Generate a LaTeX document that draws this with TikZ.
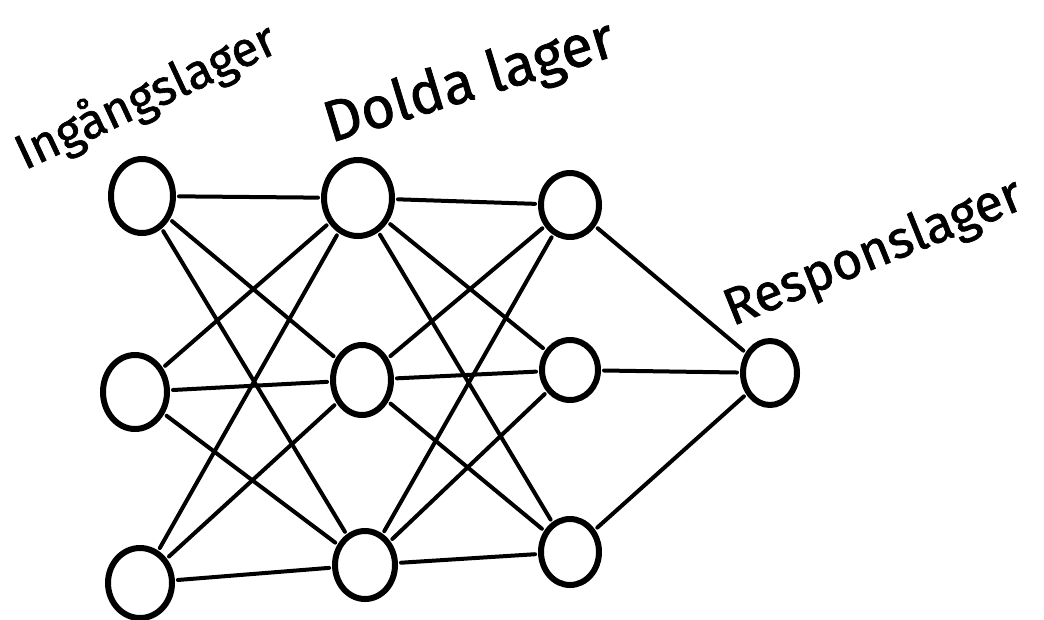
\documentclass[tikz,border=0pt]{standalone}
\usepackage{fontspec}
\newfontfamily\handfont{Fira Sans}[FakeBold=1.3]
\usetikzlibrary{shapes.geometric}
\begin{document}
\begin{tikzpicture}[x=1pt,y=-1pt,
  neuron/.style={draw, ellipse, line width=6pt, inner sep=0pt},
  link/.style={line width=4pt, line cap=round, shorten <=3pt, shorten >=3pt},
  title/.style={inner sep=0pt}]
\useasboundingbox (0,0) rectangle (1044,619);
% input layer
\node[neuron, minimum width=62pt, minimum height=74pt] (i1) at (142,196) {};
\node[neuron, minimum width=64pt, minimum height=74pt] (i2) at (135,392) {};
\node[neuron, minimum width=64pt, minimum height=70pt] (i3) at (140,583) {};
% first hidden layer
\node[neuron, minimum width=68pt, minimum height=76pt] (h1) at (358,198) {};
\node[neuron, minimum width=58pt, minimum height=70pt] (h2) at (362,380) {};
\node[neuron, minimum width=60pt, minimum height=68pt] (h3) at (365,565) {};
% second hidden layer
\node[neuron, minimum width=58pt, minimum height=64pt] (g1) at (570,205) {};
\node[neuron, minimum width=56pt, minimum height=60pt] (g2) at (570,370) {};
\node[neuron, minimum width=58pt, minimum height=66pt] (g3) at (570,552) {};
% output layer
\node[neuron, minimum width=54pt, minimum height=64pt] (o) at (770,373) {};
% connections
\foreach \a in {i1,i2,i3}
  \foreach \b in {h1,h2,h3}
    \draw[link] (\a) -- (\b);
\foreach \a in {h1,h2,h3}
  \foreach \b in {g1,g2,g3}
    \draw[link] (\a) -- (\b);
\foreach \a in {g1,g2,g3}
  \draw[link] (\a) -- (o);
% layer titles
\node[title, rotate=25, font=\handfont\fontsize{49}{54}\selectfont] (t1) at (146,97) {Ingångslager};
\node[title, rotate=17, font=\handfont\fontsize{58}{62}\selectfont] (t2) at (470,84) {Dolda lager};
\node[title, rotate=22, font=\handfont\fontsize{52}{60}\selectfont] (t3) at (874,254) {Responslager};
\end{tikzpicture}
\end{document}
